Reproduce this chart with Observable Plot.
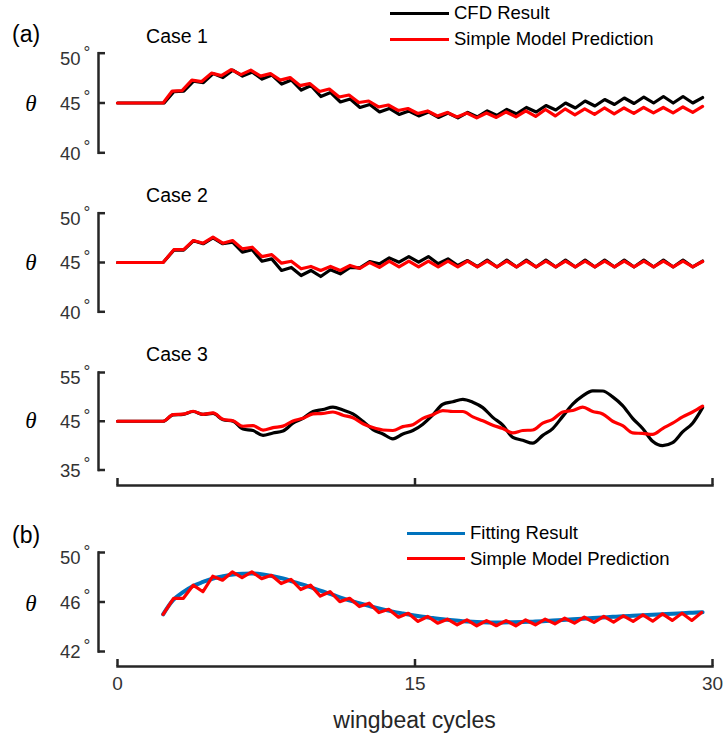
<!DOCTYPE html>
<html>
<head>
<meta charset="utf-8">
<title>Pitch angle θ over wingbeat cycles</title>
<script src="https://cdn.jsdelivr.net/npm/d3@7"></script>
<script src="https://cdn.jsdelivr.net/npm/@observablehq/plot@0.6"></script>
<style>
  html, body { margin: 0; padding: 0; background: #fff; }
  #figure { position: relative; width: 724px; height: 736px; overflow: hidden; background: #fff;
    font-family: "Liberation Sans", Arial, Helvetica, sans-serif; color: #000; }
  #figure svg { position: absolute; left: 0; }
  .label { position: absolute; white-space: nowrap; line-height: 1; }
  .center { transform: translate(-50%, -50%); }
  .left { transform: translate(0, -50%); }
  .tag { font-size: 23px; }
  .case { font-size: 19.5px; }
  .theta { font-family: "Liberation Serif", "Times New Roman", serif; font-style: italic; font-size: 23px; }
  .key { font-size: 18.5px; }
  .xtitle { font-size: 23px; color: #262626; }
  .swatch { position: absolute; height: 3px; }
</style>
</head>
<body>
<div id="figure"></div>
<script>
// ---- data: pitch angle θ (degrees) against wingbeat cycles ----
const restAngle = 45;          // angle held before the perturbation starts
const xTicks = [0, 15, 30];
const case1Ticks = [40, 45, 50];
const case2Ticks = [40, 45, 50];
const case3Ticks = [35, 45, 55];
const fitTicks = [42, 46, 50];

// Case 1: samples alternate crest / trough of the within-cycle oscillation
const case1CFD = [46.15, 46.2, 47.2, 47.05, 47.95, 47.55, 48.3, 47.7, 48.1, 47.4,
  47.8, 46.9, 47.3, 46.3, 46.75, 45.65, 46.05, 45.1, 45.4, 44.55,
  44.85, 44.1, 44.45, 43.85, 44.2, 43.7, 44.1, 43.55, 44.0, 43.5,
  44.05, 43.6, 44.2, 43.75, 44.35, 43.9, 44.55, 44.1, 44.75, 44.3,
  45.0, 44.5, 45.2, 44.7, 45.35, 44.85, 45.5, 44.95, 45.6, 45.0,
  45.65, 45.0, 45.65, 45.0, 45.55];
const case1Model = [46.2, 46.25, 47.3, 47.15, 48.0, 47.75, 48.35, 47.85, 48.3, 47.7,
  47.95, 47.3, 47.55, 46.75, 46.95, 46.15, 46.4, 45.6, 45.8, 45.05,
  45.2, 44.6, 44.8, 44.25, 44.45, 43.95, 44.2, 43.7, 44.05, 43.6,
  44.0, 43.5, 44.0, 43.55, 44.1, 43.6, 44.2, 43.65, 44.35, 43.7,
  44.4, 43.8, 44.4, 43.85, 44.5, 43.9, 44.5, 43.95, 44.55, 44.0,
  44.55, 44.0, 44.6, 44.05, 44.65];
const case1CFDTiming = {hold: 2.35, first: 2.85, last: 29.5};
const case1ModelTiming = {hold: 2.3, first: 2.76, last: 29.5};

// Case 2
const case2CFD = [46.25, 46.25, 47.2, 46.9, 47.5, 46.9, 47.06, 46.05, 46.29, 45.13,
  45.37, 44.19, 44.5, 43.68, 44.19, 43.58, 44.26, 43.85, 44.5, 44.46,
  45.1, 44.87, 45.47, 45.03, 45.6, 45.03, 45.6, 44.87, 45.37, 44.7,
  45.2, 44.58, 45.25, 44.55, 45.25, 44.55, 45.25, 44.55, 45.25, 44.55,
  45.25, 44.55, 45.25, 44.55, 45.25, 44.55, 45.25, 44.55, 45.25, 44.55,
  45.25, 44.55, 45.25, 44.55, 45.15];
const case2Model = [46.3, 46.3, 47.23, 46.96, 47.57, 46.96, 47.23, 46.38, 46.55, 45.6,
  45.8, 44.93, 45.13, 44.36, 44.6, 44.19, 44.6, 44.19, 44.7, 44.4,
  45.0, 44.5, 45.13, 44.55, 45.15, 44.55, 45.15, 44.55, 45.15, 44.55,
  45.15, 44.55, 45.15, 44.55, 45.15, 44.55, 45.15, 44.55, 45.15, 44.55,
  45.15, 44.55, 45.15, 44.55, 45.15, 44.55, 45.15, 44.55, 45.15, 44.55,
  45.15, 44.55, 45.15, 44.55, 45.1];
const case2Timing = {hold: 2.3, first: 2.84, last: 29.5};

// Case 3: samples every half cycle from the release onwards
const case3CFD = [45.0, 46.3, 46.4, 47.0, 46.4, 46.6, 45.3, 45.0, 43.4, 43.1,
  42.1, 42.6, 43.0, 44.6, 45.6, 47.0, 47.4, 47.9, 47.3, 46.5,
  45.0, 43.3, 42.4, 41.4, 42.4, 43.1, 44.4, 46.3, 48.5, 49.0,
  49.5, 48.9, 47.8, 45.8, 44.2, 41.7, 41.1, 40.5, 42.1, 43.5,
  46.0, 48.5, 50.2, 51.25, 51.2, 50.0, 48.2, 45.6, 43.5, 40.9,
  40.0, 40.6, 42.8, 44.6, 47.8];
const case3Model = [45.0, 46.37, 46.45, 47.05, 46.4, 46.71, 45.4, 45.1, 43.97, 44.1,
  43.2, 43.7, 44.0, 45.05, 45.6, 46.5, 46.6, 46.9, 46.23, 45.7,
  44.5, 43.7, 43.2, 43.1, 43.9, 44.3, 45.6, 46.35, 47.2, 47.0,
  47.0, 45.9, 45.1, 44.2, 43.5, 42.6, 43.1, 43.2, 44.6, 45.4,
  46.9, 47.2, 47.9, 47.0, 46.5, 45.0, 44.1, 42.6, 42.5, 42.3,
  43.5, 44.6, 45.9, 46.9, 48.1];
const case3Timing = {hold: 2.3, first: 2.3, last: 29.5};

// (b) smooth fit and the simple-model response it summarises
const fitResult = [45.0, 46.15, 46.8, 47.3, 47.62, 47.9, 48.08, 48.22, 48.28, 48.3,
  48.22, 48.08, 47.9, 47.65, 47.4, 47.12, 46.85, 46.58, 46.3, 46.05,
  45.82, 45.6, 45.4, 45.22, 45.07, 44.93, 44.8, 44.7, 44.6, 44.52,
  44.45, 44.4, 44.37, 44.35, 44.35, 44.36, 44.38, 44.41, 44.45, 44.5,
  44.55, 44.6, 44.65, 44.7, 44.75, 44.8, 44.85, 44.89, 44.93, 44.97,
  45.01, 45.05, 45.1, 45.14, 45.18];
const fitModel = [46.3, 46.3, 47.36, 46.83, 48.08, 47.76, 48.43, 47.97, 48.43, 47.89,
  48.16, 47.49, 47.82, 47.01, 47.36, 46.48, 46.83, 46.03, 46.3, 45.63,
  45.9, 45.15, 45.41, 44.77, 45.09, 44.43, 44.83, 44.29, 44.61, 44.16,
  44.56, 44.08, 44.5, 44.08, 44.5, 44.08, 44.55, 44.16, 44.62, 44.24,
  44.69, 44.29, 44.77, 44.35, 44.83, 44.38, 44.88, 44.43, 44.96, 44.45,
  45.04, 44.51, 45.09, 44.51, 45.15];
const fitTiming = {start: 2.3, first: 2.3, last: 29.5};
const fitModelTiming = {start: 2.3, first: 2.83, last: 29.45};

// ---- layout ----
const W = 724, X_LEFT = 117, X_RIGHT = 712, AXIS_X = 98;
const INK = "#262626", TICK_TEXT = "#333333";
const CFD = "#000000", MODEL = "#ff0000", FIT = "#0072bd";
const FONT = '"Liberation Sans", Arial, Helvetica, sans-serif';
const fig = document.getElementById("figure");

// evenly spaced samples between the first and last sample time, after any lead-in points
function trace(values, first, last, lead = []) {
  const step = (last - first) / (values.length - 1);
  return [...lead.map(([t, v]) => ({t, v})), ...values.map((v, i) => ({t: first + i * step, v}))];
}
const held = (timing) => [[0, restAngle], [timing.hold, restAngle]];

function tickLabels(data, dy) {
  return [
    Plot.text(data, {y: d => d, text: d => String(d), frameAnchor: "left", textAnchor: "end",
      dx: -18, dy, fontSize: 18.5, fill: TICK_TEXT}),
    Plot.text(data, {y: d => d, text: () => "°", frameAnchor: "left", textAnchor: "start",
      dx: -15, dy: dy - 7, fontSize: 17, fill: TICK_TEXT})
  ];
}

function panel({top, height, yTop, yBottom, xAxisY, ticks, lines, extra = []}) {
  const frameBottom = xAxisY ?? yBottom;
  const frameW = X_RIGHT - AXIS_X;
  const frameH = frameBottom - yTop;
  const hi = d3.max(ticks);
  const marks = [
    Plot.frame({anchor: "left", stroke: INK, strokeWidth: 2.5, insetBottom: frameBottom - yBottom}),
    Plot.ruleY(ticks, {stroke: INK, strokeWidth: 2.5, insetRight: frameW - 7}),
    ...tickLabels(ticks.filter(d => d !== hi), 1),
    ...tickLabels([hi], 6),
    ...lines.map(s => Plot.line(s.data, {x: "t", y: "v", stroke: s.color, strokeWidth: s.width,
      curve: s.curve ?? "linear", strokeLinejoin: "round", strokeLinecap: "round"}))
  ];
  if (xAxisY != null) {
    marks.push(
      Plot.frame({anchor: "bottom", stroke: INK, strokeWidth: 2.5, insetLeft: X_LEFT - AXIS_X}),
      Plot.ruleX(xTicks, {stroke: INK, strokeWidth: 2.5, insetTop: frameH - 7})
    );
  }
  marks.push(...extra);
  const svg = Plot.plot({
    width: W,
    height,
    marginLeft: AXIS_X,
    marginRight: W - X_RIGHT,
    marginTop: yTop - top,
    marginBottom: top + height - frameBottom,
    x: {domain: [0, 30], range: [X_LEFT, X_RIGHT], axis: null},
    y: {domain: d3.extent(ticks), range: [yBottom - top, yTop - top], axis: null},
    style: {background: "transparent", overflow: "visible", fontFamily: FONT},
    marks
  });
  svg.style.top = top + "px";
  fig.appendChild(svg);
}

function label(text, x, y, cls, align = "center") {
  const el = document.createElement("div");
  el.className = `label ${align} ${cls}`;
  el.textContent = text;
  el.style.left = x + "px";
  el.style.top = y + "px";
  fig.appendChild(el);
}

function legend(entries, x1, x2, y0, gap) {
  entries.forEach((e, i) => {
    const y = y0 + i * gap;
    const s = document.createElement("div");
    s.className = "swatch";
    s.style.background = e.color;
    s.style.left = x1 + "px";
    s.style.width = (x2 - x1) + "px";
    s.style.top = (y - 1.5) + "px";
    fig.appendChild(s);
    label(e.name, x2 + 5, y, "key", "left");
  });
}

// ---- (a) Case 1 ----
panel({
  top: 0, height: 170, yTop: 52.7, yBottom: 152.3, ticks: case1Ticks,
  lines: [
    {data: trace(case1CFD, case1CFDTiming.first, case1CFDTiming.last, held(case1CFDTiming)), color: CFD, width: 3.2},
    {data: trace(case1Model, case1ModelTiming.first, case1ModelTiming.last, held(case1ModelTiming)), color: MODEL, width: 3.2}
  ]
});

// ---- (a) Case 2 ----
panel({
  top: 170, height: 150, yTop: 212.7, yBottom: 311.3, ticks: case2Ticks,
  lines: [
    {data: trace(case2CFD, case2Timing.first, case2Timing.last, held(case2Timing)), color: CFD, width: 3.2},
    {data: trace(case2Model, case2Timing.first, case2Timing.last, held(case2Timing)), color: MODEL, width: 3.2}
  ]
});

// ---- (a) Case 3, with the shared cycle axis ----
panel({
  top: 320, height: 180, yTop: 372, yBottom: 469.5, xAxisY: 485, ticks: case3Ticks,
  lines: [
    {data: trace(case3CFD, case3Timing.first, case3Timing.last, [[0, restAngle]]), color: CFD, width: 3.2, curve: "monotone-x"},
    {data: trace(case3Model, case3Timing.first, case3Timing.last, [[0, restAngle]]), color: MODEL, width: 3.2, curve: "monotone-x"}
  ]
});

// ---- (b) fitted response ----
panel({
  top: 500, height: 236, yTop: 552, yBottom: 651, xAxisY: 666, ticks: fitTicks,
  lines: [
    {data: trace(fitResult, fitTiming.first, fitTiming.last), color: FIT, width: 4, curve: "catmull-rom"},
    {data: trace(fitModel, fitModelTiming.first, fitModelTiming.last, [[fitModelTiming.start, restAngle]]), color: MODEL, width: 3.2}
  ],
  extra: [
    Plot.text(xTicks, {x: d => d, text: d => String(d), frameAnchor: "bottom", dy: 23,
      fontSize: 19, fill: TICK_TEXT})
  ]
});

// ---- text ----
label("(a)", 12, 34, "tag", "left");
label("(b)", 12, 535, "tag", "left");
label("Case 1", 177, 37, "case");
label("Case 2", 177, 195.5, "case");
label("Case 3", 177, 355, "case");
label("θ", 31, 103, "theta");
label("θ", 31, 262, "theta");
label("θ", 31, 420, "theta");
label("θ", 31, 603, "theta");
label("wingbeat cycles", (X_LEFT + X_RIGHT) / 2, 720, "xtitle");

legend([{name: "CFD Result", color: CFD}, {name: "Simple Model Prediction", color: MODEL}], 390, 449, 13, 26);
legend([{name: "Fitting Result", color: FIT}, {name: "Simple Model Prediction", color: MODEL}], 407, 465, 533, 25.5);
</script>
</body>
</html>
